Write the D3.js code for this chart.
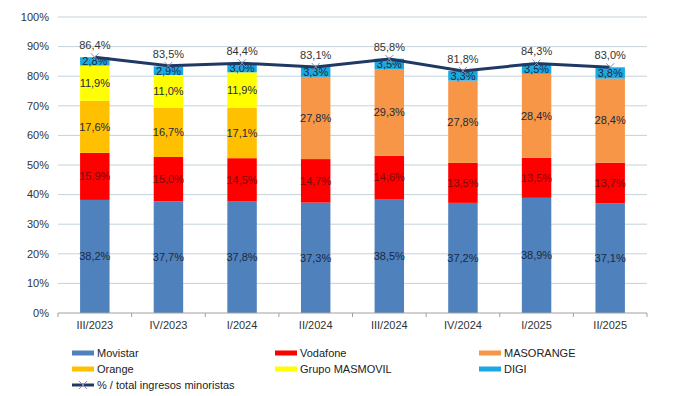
<!DOCTYPE html>
<html>
<head>
<meta charset="utf-8">
<script src="https://cdn.jsdelivr.net/npm/d3@7"></script>
<style>
  body { margin: 0; background: #fff; }
  text { font-family: "Liberation Sans", Arial, sans-serif; }
</style>
</head>
<body>
<script>
// quarters and market shares (%)
var periods = ["III/2023", "IV/2023", "I/2024", "II/2024", "III/2024", "IV/2024", "I/2025", "II/2025"];
var movistar  = [38.2, 37.7, 37.8, 37.3, 38.5, 37.2, 38.9, 37.1];
var vodafone  = [15.9, 15.0, 14.5, 14.7, 14.6, 13.5, 13.5, 13.7];
var orange    = [17.6, 16.7, 17.1, 0, 0, 0, 0, 0];
var masmovil  = [11.9, 11.0, 11.9, 0, 0, 0, 0, 0];
var masorange = [0, 0, 0, 27.8, 29.3, 27.8, 28.4, 28.4];
var digi      = [2.8, 2.9, 3.0, 3.3, 3.5, 3.3, 3.5, 3.8];
var totals    = [86.4, 83.5, 84.4, 83.1, 85.8, 81.8, 84.3, 83.0];
var yTicks    = [0, 10, 20, 30, 40, 50, 60, 70, 80, 90, 100];

var keys = ["Movistar", "Vodafone", "Orange", "Grupo MASMOVIL", "MASORANGE", "DIGI"];
var colors = {
  "Movistar": "#4f81bd",
  "Vodafone": "#ff0000",
  "Orange": "#ffc000",
  "Grupo MASMOVIL": "#ffff00",
  "MASORANGE": "#f79646",
  "DIGI": "#1aa9e1"
};
var seriesArr = [movistar, vodafone, orange, masmovil, masorange, digi];

var rows = periods.map(function (p, i) {
  var r = { period: p };
  keys.forEach(function (k, j) { r[k] = seriesArr[j][i]; });
  return r;
});

var w = 679, h = 396;
var plotLeft = 58, plotRight = 647, plotTop = 17, plotBottom = 313;

var svg = d3.select("body").append("svg")
  .attr("width", w)
  .attr("height", h);

var x = d3.scaleBand().domain(periods).range([plotLeft, plotRight]).paddingInner(0.6).paddingOuter(0.3);
var xb = d3.scaleBand().domain(periods).range([plotLeft, plotRight]);
var y = d3.scaleLinear().domain([0, 100]).range([plotBottom, plotTop]);

// gridlines
svg.append("g")
  .selectAll("line")
  .data(yTicks.filter(function (d) { return d > 0; }))
  .enter().append("line")
  .attr("x1", plotLeft).attr("x2", plotRight)
  .attr("y1", function (d) { return y(d); })
  .attr("y2", function (d) { return y(d); })
  .attr("stroke", "#c5d3da")
  .attr("stroke-width", 1);

// y labels
svg.append("g")
  .selectAll("text")
  .data(yTicks)
  .enter().append("text")
  .attr("x", plotLeft - 9)
  .attr("y", function (d) { return y(d); })
  .attr("dy", "0.35em")
  .attr("text-anchor", "end")
  .attr("font-size", "11px")
  .attr("fill", "#333")
  .text(function (d) { return d + "%"; });

var stack = d3.stack().keys(keys)(rows);

var layer = svg.append("g")
  .selectAll("g")
  .data(stack)
  .enter().append("g")
  .attr("fill", function (d) { return colors[d.key]; });

layer.selectAll("rect")
  .data(function (d) { return d; })
  .enter().append("rect")
  .attr("x", function (d) { return x(d.data.period); })
  .attr("width", x.bandwidth())
  .attr("y", function (d) { return y(d[1]); })
  .attr("height", function (d) { return y(d[0]) - y(d[1]); });

// segment labels
layer.selectAll("text")
  .data(function (d) { return d.filter(function (s) { return s[1] - s[0] > 0; }); })
  .enter().append("text")
  .attr("x", function (d) { return x(d.data.period) + x.bandwidth() / 2; })
  .attr("y", function (d) { return y((d[0] + d[1]) / 2); })
  .attr("dy", "0.35em")
  .attr("text-anchor", "middle")
  .attr("font-size", "11px")
  .attr("fill", function () {
    var k = d3.select(this.parentNode).datum().key;
    return k == "Vodafone" ? "#7a0a0a" : "#1a2a40";
  })
  .text(function (d) { return (d[1] - d[0]).toFixed(1).replace(".", ",") + "%"; });

// x axis
var xAxis = svg.append("g");
xAxis.append("line")
  .attr("x1", plotLeft).attr("x2", plotRight)
  .attr("y1", plotBottom).attr("y2", plotBottom)
  .attr("stroke", "#a0a0a0");
var edges = periods.map(function (p) { return xb(p); }).concat([plotRight]);
xAxis.selectAll(".tk")
  .data(edges)
  .enter().append("line")
  .attr("x1", function (d) { return d; }).attr("x2", function (d) { return d; })
  .attr("y1", plotBottom).attr("y2", plotBottom + 4)
  .attr("stroke", "#a0a0a0");
xAxis.selectAll("text")
  .data(periods)
  .enter().append("text")
  .attr("x", function (d) { return xb(d) + xb.bandwidth() / 2; })
  .attr("y", plotBottom + 16)
  .attr("text-anchor", "middle")
  .attr("font-size", "11px")
  .attr("fill", "#333")
  .text(function (d) { return d; });

// total line
var line = d3.line()
  .x(function (d, i) { return x(periods[i]) + x.bandwidth() / 2; })
  .y(function (d) { return y(d); });

svg.append("path")
  .datum(totals)
  .attr("d", line)
  .attr("fill", "none")
  .attr("stroke", "#1f3864")
  .attr("stroke-width", 3);

var marks = svg.append("g")
  .selectAll("g")
  .data(totals)
  .enter().append("g")
  .attr("transform", function (d, i) {
    return "translate(" + (x(periods[i]) + x.bandwidth() / 2) + "," + y(d) + ")";
  });
marks.append("path")
  .attr("d", "M-4,-4L4,4M-4,4L4,-4")
  .attr("stroke", "#8a8fa8")
  .attr("stroke-width", 1);
marks.append("text")
  .attr("y", -8)
  .attr("text-anchor", "middle")
  .attr("font-size", "11px")
  .attr("fill", "#333")
  .text(function (d) { return d.toFixed(1).replace(".", ",") + "%"; });

// legend
var legendItems = [
  { name: "Movistar", col: 0, row: 0 },
  { name: "Vodafone", col: 1, row: 0 },
  { name: "MASORANGE", col: 2, row: 0 },
  { name: "Orange", col: 0, row: 1 },
  { name: "Grupo MASMOVIL", col: 1, row: 1 },
  { name: "DIGI", col: 2, row: 1 }
];
var colX = [72, 275, 479];
var rowY = [353, 369, 385];

var leg = svg.append("g")
  .selectAll("g")
  .data(legendItems)
  .enter().append("g")
  .attr("transform", function (d) { return "translate(" + colX[d.col] + "," + rowY[d.row] + ")"; });
leg.append("rect")
  .attr("x", 0).attr("y", -2.5)
  .attr("width", 22).attr("height", 5)
  .attr("fill", function (d) { return colors[d.name]; });
leg.append("text")
  .attr("x", 25)
  .attr("dy", "0.35em")
  .attr("font-size", "11px")
  .attr("fill", "#222")
  .text(function (d) { return d.name; });

var lineLeg = svg.append("g").attr("transform", "translate(" + colX[0] + "," + rowY[2] + ")");
lineLeg.append("line")
  .attr("x1", 0).attr("x2", 22)
  .attr("stroke", "#1f3864").attr("stroke-width", 3);
lineLeg.append("path")
  .attr("d", "M7,-4L15,4M7,4L15,-4")
  .attr("stroke", "#8a8fa8").attr("stroke-width", 1);
lineLeg.append("text")
  .attr("x", 25)
  .attr("dy", "0.35em")
  .attr("font-size", "11px")
  .attr("fill", "#222")
  .text("% / total ingresos minoristas");
</script>
</body>
</html>
